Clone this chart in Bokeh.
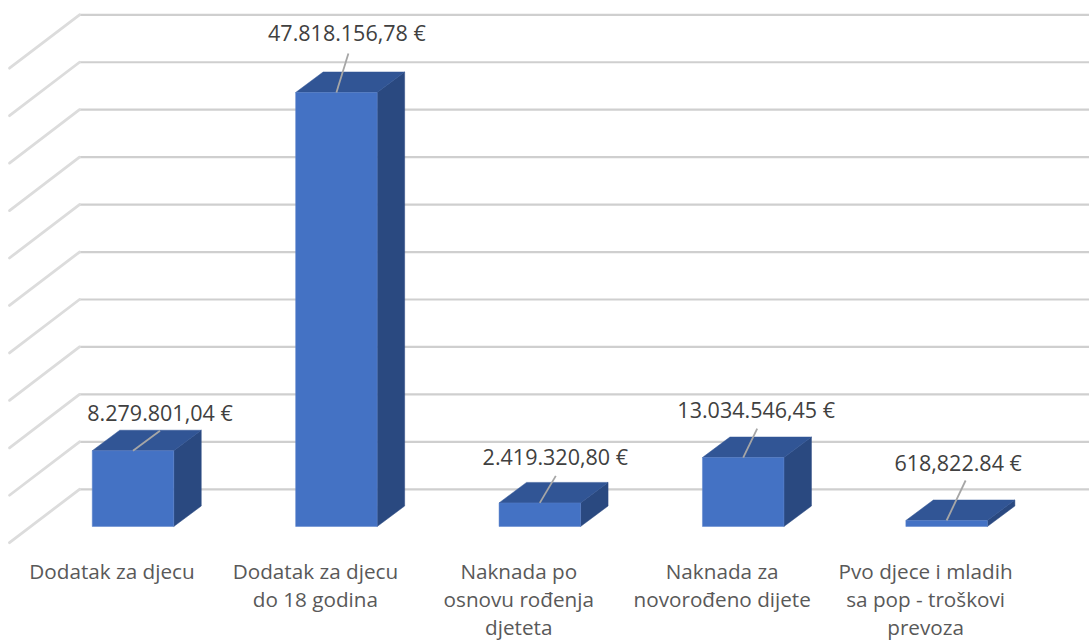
from bokeh.plotting import figure
from bokeh.models import Range1d, ColumnDataSource
from bokeh.core.properties import value
from bokeh.embed import file_html
from bokeh.resources import INLINE

# ---- data ----
categories = [
    "Dodatak za djecu",
    "Dodatak za djecu\ndo 18 godina",
    "Naknada po\nosnovu rođenja\ndjeteta",
    "Naknada za\nnovorođeno dijete",
    "Pvo djece i mladih\nsa pop - troškovi\nprevoza",
]
data_labels = [
    "8.279.801,04 €",
    "47.818.156,78 €",
    "2.419.320,80 €",
    "13.034.546,45 €",
    "618,822.84 €",
]
# bar heights as drawn in the picture (euros)
bar_values = [8350000, 47820000, 2600000, 7600000, 660000]
# value axis levels behind the bars (its labels are hidden in the reference)
grid_levels = [0, 5e6, 10e6, 15e6, 20e6, 25e6, 30e6, 35e6, 40e6, 45e6, 50e6]

# ---- layout, in pixels of the picture ----
W, H = 1089, 641
SLOT = 203.4          # px between categories
X0 = 132.5            # px of first bar centre
Y0 = 526              # px of value 0 at the bars
PX_PER_EURO = 9.076e-6
BAR_W = 81.5 / SLOT
DEPTH_X = 27.5 / SLOT
DEPTH_Y = 20.5 / PX_PER_EURO
WALL_STEP = 47.45 / 5e6 / PX_PER_EURO   # the back wall scale differs by perspective
WALL_BASE = (Y0 - 488.8) / PX_PER_EURO
WALL_X = (79 - X0) / SLOT
WALL_FRONT_X = (9 - X0) / SLOT
WALL_FRONT_Y = 53.4 / PX_PER_EURO

# leader line ends, px from the front-top centre of each bar
leader_dx = [27, 12, 16, 14, 19]
leader_dy = [-20, -39, -27, -29, -40]
# label centres, px from the front-top centre of each bar
label_dx = [27, 10.5, 15.5, 13, 11.5]
label_dy = [-38, -59.5, -46, -48, -58.5]
cat_dx = -21          # category labels sit left of the bars

x_range = Range1d((0 - X0) / SLOT, (W - X0) / SLOT)
y_range = Range1d((Y0 - H) / PX_PER_EURO, (Y0 - 0) / PX_PER_EURO)

p = figure(
    width=W, height=H,
    x_range=x_range, y_range=y_range,
    x_axis_location=None, y_axis_location=None,
    output_backend="svg", toolbar_location=None,
    min_border=0, outline_line_color=None, background_fill_color="white",
)
p.grid.visible = False

idx = list(range(len(categories)))

# walls: one diagonal plus one horizontal per level
wall_y = [WALL_BASE + g * WALL_STEP for g in grid_levels]
p.multi_line(
    xs=[[WALL_X, x_range.end] for _ in wall_y],
    ys=[[y, y] for y in wall_y],
    line_color="#cfcfcf", line_width=2.2,
)
p.multi_line(
    xs=[[WALL_FRONT_X, WALL_X] for _ in wall_y],
    ys=[[y - WALL_FRONT_Y, y] for y in wall_y],
    line_color="#dcdcdc", line_width=2.8, line_cap="round",
)

# bars
left = [i - BAR_W / 2 for i in idx]
right = [i + BAR_W / 2 for i in idx]
side_xs = [[r, r + DEPTH_X, r + DEPTH_X, r] for r in right]
side_ys = [[0, DEPTH_Y, v + DEPTH_Y, v] for v in bar_values]
top_xs = [[l, r, r + DEPTH_X, l + DEPTH_X] for l, r in zip(left, right)]
top_ys = [[v, v, v + DEPTH_Y, v + DEPTH_Y] for v in bar_values]
p.patches(side_xs, side_ys, fill_color="#2A4980", line_color="#2A4980", line_width=0.5)
p.patches(top_xs, top_ys, fill_color="#315595", line_color="#315595", line_width=0.5)
p.quad(left=left, right=right, bottom=[0] * len(idx), top=bar_values,
       fill_color="#4472C4", line_color="#5a82cb", line_width=0.5)

# leader lines
p.segment(
    x0=idx, y0=bar_values,
    x1=[i + d / SLOT for i, d in zip(idx, leader_dx)],
    y1=[v - d / PX_PER_EURO for v, d in zip(bar_values, leader_dy)],
    line_color="#a6a6a6", line_width=1.8,
)

# data labels
src = ColumnDataSource(dict(x=idx, y=bar_values, t=data_labels, dx=label_dx, dy=label_dy))
p.text(x="x", y="y", text="t", x_offset="dx", y_offset="dy", source=src,
       text_font=value("Open Sans"), text_font_size="21.5px", text_color="#404040",
       text_align="center", text_baseline="middle")

# category labels
p.text(x=idx, y=[0] * len(idx), text=categories, x_offset=cat_dx, y_offset=30,
       text_font=value("Open Sans"), text_font_size="20.7px", text_color="#595959",
       text_align="center", text_baseline="top", text_line_height=1.0)

open("out.html", "w").write(file_html(p, INLINE))
